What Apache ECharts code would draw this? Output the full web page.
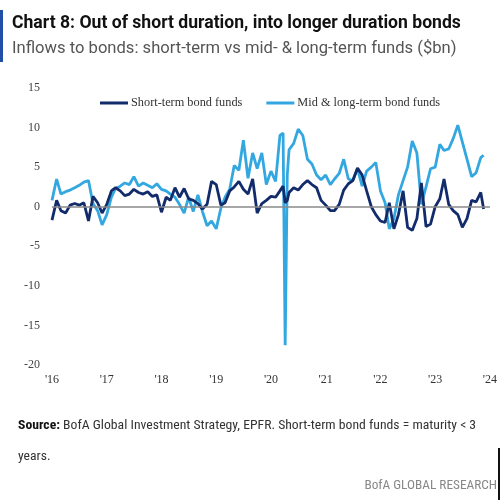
<!DOCTYPE html>
<html>
<head>
<meta charset="utf-8">
<script src="https://cdn.jsdelivr.net/npm/echarts@6/dist/echarts.min.js"></script>
<style>html,body{margin:0;padding:0;background:#fff}#c{width:500px;height:500px}</style>
</head>
<body>
<div id="c"></div>
<script>
var dates = ['2016-01-01','2016-02-01','2016-03-01','2016-04-01','2016-05-01','2016-06-01','2016-07-01','2016-08-01','2016-09-01','2016-10-01','2016-11-01','2016-12-01',
'2017-01-01','2017-02-01','2017-03-01','2017-04-01','2017-05-01','2017-06-01','2017-07-01','2017-08-01','2017-09-01','2017-10-01','2017-11-01','2017-12-01',
'2018-01-01','2018-02-01','2018-03-01','2018-04-01','2018-05-01','2018-06-01','2018-07-01','2018-08-01','2018-09-01','2018-10-01','2018-11-01','2018-12-01',
'2019-01-01','2019-02-01','2019-03-01','2019-04-01','2019-05-01','2019-06-01','2019-07-01','2019-08-01','2019-09-01','2019-10-01','2019-11-01','2019-12-01',
'2020-01-01','2020-02-01','2020-03-01','2020-03-22','2020-04-05','2020-04-19','2020-05-01','2020-06-01','2020-07-01','2020-08-01','2020-09-01','2020-10-01','2020-11-01','2020-12-01',
'2021-01-01','2021-02-01','2021-03-01','2021-04-01','2021-05-01','2021-06-01','2021-07-01','2021-08-01','2021-09-01','2021-10-01','2021-11-01','2021-12-01',
'2022-01-01','2022-02-01','2022-03-01','2022-04-01','2022-05-01','2022-06-01','2022-07-01','2022-08-01','2022-09-01','2022-10-01','2022-11-01','2022-12-01',
'2023-01-01','2023-02-01','2023-03-01','2023-04-01','2023-05-01','2023-06-01','2023-07-01','2023-08-01','2023-09-01','2023-10-01','2023-11-01','2023-11-20'];

var shortTerm = [-1.7,0.8,-0.5,-0.8,0.2,0.4,0.2,0.5,-1.8,1.3,0.5,-0.8,
0.3,2.0,2.4,2.0,1.4,1.6,2.2,1.8,1.6,1.9,1.3,1.5,
-0.7,1.2,0.8,2.4,1.2,2.3,1.0,0.8,0.4,-0.3,0.3,3.2,
2.8,0.2,0.5,2.0,2.5,3.2,2.2,1.6,3.5,-0.8,0.4,0.8,
1.3,1.2,2.0,2.6,0.5,0.8,1.8,2.4,2.1,2.8,3.3,2.8,2.4,0.8,
0.2,-0.5,-0.5,0.3,2.1,2.9,3.3,4.9,4.0,2.0,0.0,-1.0,
-1.8,-2.0,0.5,-2.8,-1.0,2.0,-2.6,-3.0,-1.5,3.0,-2.5,-2.2,
0.0,1.0,3.5,0.3,-0.5,-1.0,-2.6,-1.5,0.8,0.6,1.8,-0.3];

var midLong = [0.8,3.5,1.6,1.9,2.1,2.4,2.7,3.1,3.3,0.4,-0.5,-2.3,
-1.0,1.2,2.3,2.6,3.0,2.8,3.8,2.6,3.0,2.7,2.4,2.9,
2.2,2.0,1.6,1.2,0.3,-0.8,1.2,-0.6,1.5,-0.6,-2.4,-1.8,
-2.8,-0.2,1.2,2.2,5.2,4.6,8.4,3.6,6.8,4.8,6.8,2.8,
4.5,3.2,9.0,9.3,-17.5,4.0,7.2,8.0,9.8,9.0,6.0,5.4,4.0,3.4,
4.0,2.8,3.5,4.2,6.0,3.5,3.3,4.8,2.6,4.5,5.0,5.6,
2.0,0.5,-2.8,-1.5,1.5,3.3,5.0,8.3,6.8,0.3,2.5,4.8,
5.0,7.9,7.1,7.3,8.6,10.3,8.2,6.0,3.8,4.3,6.2,6.5];

var yTicks = [-20,-15,-10,-5,0,5,10,15];
var seriesNames = ['Short-term bond funds','Mid & long-term bond funds'];

function toYear(s){
  var p = s.split('-').map(Number);
  var start = Date.UTC(p[0],0,1), end = Date.UTC(p[0]+1,0,1), d = Date.UTC(p[0],p[1]-1,p[2]);
  return p[0] + (d-start)/(end-start);
}
function pairs(vals){ return vals.map(function(v,i){ return [toYear(dates[i]), v]; }); }

var sans = "Roboto, 'Noto Sans', sans-serif";
var narrow = "'Roboto Condensed', 'Liberation Sans Narrow', Roboto, sans-serif";
var serif = "'Liberation Serif', 'DejaVu Serif', serif";

var chart = echarts.init(document.getElementById('c'), null, {renderer:'canvas'});
chart.setOption({
  animation:false,
  backgroundColor:'#fff',
  grid:{left:52, right:-3, top:88, bottom:135, containLabel:false},
  legend:{
    top:92, left:95,
    itemWidth:28, itemHeight:3, itemGap:24, icon:'rect',
    textStyle:{fontFamily:serif, fontSize:12.3, color:'#333', padding:[0,0,0,-2]},
    data:seriesNames
  },
  xAxis:{
    type:'value', min:2016, max:2024, interval:1,
    axisLine:{show:false}, axisTick:{show:false}, splitLine:{show:false},
    axisLabel:{margin:9, fontFamily:serif, fontSize:12, color:'#333',
      formatter:function(v){ return "'" + String(v).slice(2); }}
  },
  yAxis:{
    type:'value', min:yTicks[0], max:yTicks[yTicks.length-1], interval:5,
    axisLine:{show:false}, axisTick:{show:false}, splitLine:{show:false},
    axisLabel:{margin:12, fontFamily:serif, fontSize:12, color:'#444'}
  },
  series:[
    {name:seriesNames[0], type:'line', data:pairs(shortTerm), showSymbol:false, symbol:'none',
     lineStyle:{color:'#112b6b', width:2.8}, itemStyle:{color:'#112b6b'}, z:3,
     markLine:{silent:true, symbol:'none', label:{show:false},
       lineStyle:{color:'#8a8a8a', width:1.5, type:'solid'}, data:[{yAxis:0}]}},
    {name:seriesNames[1], type:'line', data:pairs(midLong), showSymbol:false, symbol:'none',
     lineStyle:{color:'#33a7df', width:2.8}, itemStyle:{color:'#33a7df'}, z:2}
  ],
  graphic:[
    {type:'rect', shape:{x:0,y:10,width:3,height:52}, style:{fill:'#1f4fa8'}},
    {type:'text', left:12, top:15, style:{text:'Chart 8: Out of short duration, into longer duration bonds',
      font:'bold 17.6px '+sans, fill:'#111'}},
    {type:'text', left:12, top:40, style:{text:'Inflows to bonds: short-term vs mid- & long-term funds ($bn)',
      font:'16.6px '+sans, fill:'#555'}},
    {type:'text', left:18, top:419, style:{
      text:'{b|Source:} BofA Global Investment Strategy, EPFR. Short-term bond funds = maturity < 3',
      rich:{b:{fontWeight:'bold', fontFamily:narrow, fontSize:13.7, fill:'#111'}},
      font:'13.7px '+narrow, fill:'#333'}},
    {type:'text', left:18, top:450, style:{text:'years.', font:'13.7px '+narrow, fill:'#333'}},
    {type:'text', right:3, top:479, style:{text:'BofA GLOBAL RESEARCH', font:'13.3px '+narrow, fill:'#888'}},
    {type:'rect', shape:{x:498,y:448,width:2,height:52}, style:{fill:'#111'}}
  ]
});
</script>
</body>
</html>
